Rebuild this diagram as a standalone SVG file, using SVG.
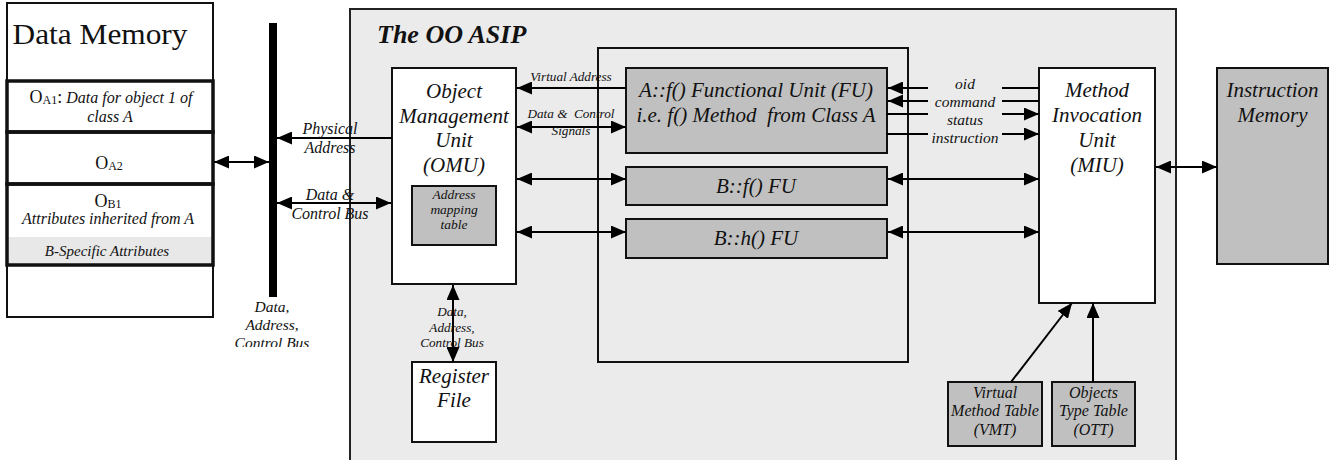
<svg xmlns="http://www.w3.org/2000/svg" width="1331" height="460" viewBox="0 0 1331 460">
  <style>
    text { font-family: "Liberation Serif", "Times New Roman", serif; fill: #111; }
    .it { font-style: italic; }
    .mid { text-anchor: middle; }
    .box { fill: #fff; stroke: #111; stroke-width: 2; }
    .gbox { fill: #c0c0c0; stroke: #111; stroke-width: 2; }
    .slot { fill: none; stroke: #111; stroke-width: 3.5; }
    .ln { fill: none; stroke: #000; stroke-width: 2; }
    .end { marker-end: url(#ah); }
    .both { marker-start: url(#ah); marker-end: url(#ah); }
  </style>
  <defs>
    <marker id="ah" markerUnits="userSpaceOnUse" markerWidth="15" markerHeight="13" refX="15" refY="6.5" orient="auto-start-reverse">
      <path d="M0,0 L15,6.5 L0,13 z" fill="#000"/>
    </marker>
    <clipPath id="busLabelClip">
      <rect x="200" y="290" width="150" height="57"/>
    </clipPath>
  </defs>

  <!-- Data memory -->
  <g id="data-memory">
    <rect class="box" x="7" y="3" width="206" height="314"/>
    <text x="100" y="44" class="mid" font-size="29" textLength="175" lengthAdjust="spacingAndGlyphs">Data Memory</text>
    <rect x="7" y="237" width="206" height="28" fill="#e8e8e8"/>
    <rect class="slot" x="7" y="81" width="206" height="51"/>
    <rect class="slot" x="7" y="132" width="206" height="52"/>
    <rect class="slot" x="7" y="184" width="206" height="81"/>
    <text x="111" y="103" class="mid"><tspan font-size="18">O</tspan><tspan font-size="12" dy="1">A1</tspan><tspan font-size="18" dy="-1">:</tspan><tspan class="it" font-size="16"> Data for object 1 of</tspan></text>
    <text x="110" y="122" class="mid it" font-size="16">class A</text>
    <text x="109" y="169" class="mid"><tspan font-size="18">O</tspan><tspan font-size="12" dy="1">A2</tspan></text>
    <text x="108" y="207" class="mid"><tspan font-size="18">O</tspan><tspan font-size="12" dy="1">B1</tspan></text>
    <text x="108" y="224" class="mid it" font-size="16">Attributes inherited from A</text>
    <text x="107" y="256" class="mid it" font-size="15">B-Specific Attributes</text>
  </g>

  <!-- System bus -->
  <g id="system-bus">
    <rect x="269" y="23" width="8" height="274" fill="#000"/>
    <g clip-path="url(#busLabelClip)" class="it" font-size="15.5">
      <text x="272" y="312" class="mid">Data,</text>
      <text x="272" y="330" class="mid">Address,</text>
      <text x="272" y="348" class="mid">Control Bus</text>
    </g>
  </g>

  <!-- Processor boundary -->
  <g id="oo-asip">
    <rect x="350" y="9" width="826" height="465" fill="#ebebeb" stroke="#222" stroke-width="2"/>
    <text x="377" y="43" font-size="26" font-weight="bold" font-style="italic">The OO ASIP</text>
    <rect x="598" y="48" width="310" height="314" fill="none" stroke="#111" stroke-width="2"/>
  </g>

  <g id="omu">
    <rect class="box" x="392" y="68" width="124" height="216"/>
    <g class="it mid" font-size="21">
      <text x="454" y="98">Object</text>
      <text x="454" y="123">Management</text>
      <text x="454" y="147">Unit</text>
      <text x="454" y="172">(OMU)</text>
    </g>
  </g>

  <g id="address-mapping-table">
    <rect class="gbox" x="412" y="186" width="84" height="59"/>
    <g class="it mid" font-size="13.5">
      <text x="454" y="199">Address</text>
      <text x="454" y="214">mapping</text>
      <text x="454" y="229">table</text>
    </g>
  </g>

  <g id="register-file">
    <rect class="box" x="412" y="362" width="84" height="80"/>
    <g class="it mid" font-size="21">
      <text x="454" y="383">Register</text>
      <text x="454" y="407">File</text>
    </g>
  </g>

  <g id="fu-a-f">
    <rect class="gbox" x="626" y="68" width="261" height="85"/>
    <g class="it mid" font-size="21">
      <text x="756" y="97">A::f() Functional Unit (FU)</text>
      <text x="756" y="122" xml:space="preserve">i.e. f() Method  from Class A</text>
    </g>
  </g>

  <g id="fu-b-f">
    <rect class="gbox" x="626" y="167" width="261" height="38"/>
    <text x="756" y="193" class="it mid" font-size="21">B::f() FU</text>
  </g>

  <g id="fu-b-h">
    <rect class="gbox" x="626" y="219" width="261" height="39"/>
    <text x="756" y="245" class="it mid" font-size="21">B::h() FU</text>
  </g>

  <g id="miu">
    <rect class="box" x="1039" y="68" width="116" height="235"/>
    <g class="it mid" font-size="21">
      <text x="1097" y="97">Method</text>
      <text x="1097" y="122">Invocation</text>
      <text x="1097" y="147">Unit</text>
      <text x="1097" y="172">(MIU)</text>
    </g>
  </g>

  <g id="vmt">
    <rect class="gbox" x="948" y="382" width="94" height="64"/>
    <g class="it mid" font-size="16">
      <text x="995" y="398">Virtual</text>
      <text x="995" y="416">Method Table</text>
      <text x="995" y="435">(VMT)</text>
    </g>
  </g>

  <g id="ott">
    <rect class="gbox" x="1052" y="382" width="83" height="64"/>
    <g class="it mid" font-size="16">
      <text x="1093.5" y="398">Objects</text>
      <text x="1093.5" y="416">Type Table</text>
      <text x="1093.5" y="435">(OTT)</text>
    </g>
  </g>

  <g id="instruction-memory">
    <rect class="gbox" x="1217" y="68" width="111" height="196"/>
    <g class="it mid" font-size="21">
      <text x="1272.5" y="97">Instruction</text>
      <text x="1272.5" y="122">Memory</text>
    </g>
  </g>

  <!-- Connectors -->
  <g id="connectors">
    <line class="ln both" x1="214" y1="162" x2="269" y2="162"/>
    <line class="ln end" x1="392" y1="138" x2="277" y2="138"/>
    <line class="ln both" x1="277" y1="203" x2="391" y2="203"/>

    <line class="ln end" x1="626" y1="88" x2="517" y2="88"/>
    <line class="ln both" x1="517" y1="127" x2="626" y2="127"/>
    <line class="ln both" x1="517" y1="179" x2="626" y2="179"/>
    <line class="ln both" x1="517" y1="232" x2="626" y2="232"/>

    <line class="ln both" x1="888" y1="179" x2="1039" y2="179"/>
    <line class="ln both" x1="888" y1="232" x2="1039" y2="232"/>

    <line class="ln" x1="1039" y1="88" x2="1002" y2="88"/>
    <line class="ln end" x1="928" y1="88" x2="888" y2="88"/>
    <line class="ln" x1="1039" y1="101" x2="1002" y2="101"/>
    <line class="ln end" x1="928" y1="101" x2="888" y2="101"/>
    <line class="ln" x1="887" y1="114" x2="928" y2="114"/>
    <line class="ln end" x1="1002" y1="114" x2="1039" y2="114"/>
    <line class="ln" x1="887" y1="134" x2="928" y2="134"/>
    <line class="ln end" x1="1002" y1="134" x2="1039" y2="134"/>

    <line class="ln both" x1="1156" y1="167" x2="1217" y2="167"/>
    <line class="ln end" x1="1011" y1="382" x2="1072" y2="303"/>
    <line class="ln end" x1="1093" y1="382" x2="1093" y2="303"/>
    <line class="ln both" x1="453" y1="285" x2="453" y2="362"/>

    <g class="it mid">
      <text x="330" y="134" font-size="16">Physical</text>
      <text x="330" y="153" font-size="16">Address</text>
      <text x="330" y="200" font-size="16">Data &amp;</text>
      <text x="330" y="219" font-size="16">Control Bus</text>
      <text x="571" y="81" font-size="13.2">Virtual Address</text>
      <text x="571" y="118" font-size="13.2" xml:space="preserve">Data &amp;  Control</text>
      <text x="571" y="135" font-size="13.2">Signals</text>
      <text x="965" y="89" font-size="15.5">oid</text>
      <text x="965" y="107" font-size="15.5">command</text>
      <text x="965" y="125" font-size="15.5">status</text>
      <text x="965" y="143" font-size="15.5">instruction</text>
      <text x="452" y="316" font-size="13.2">Data,</text>
      <text x="452" y="332" font-size="13.2">Address,</text>
      <text x="452" y="347" font-size="13.2">Control Bus</text>
    </g>
  </g>
</svg>
